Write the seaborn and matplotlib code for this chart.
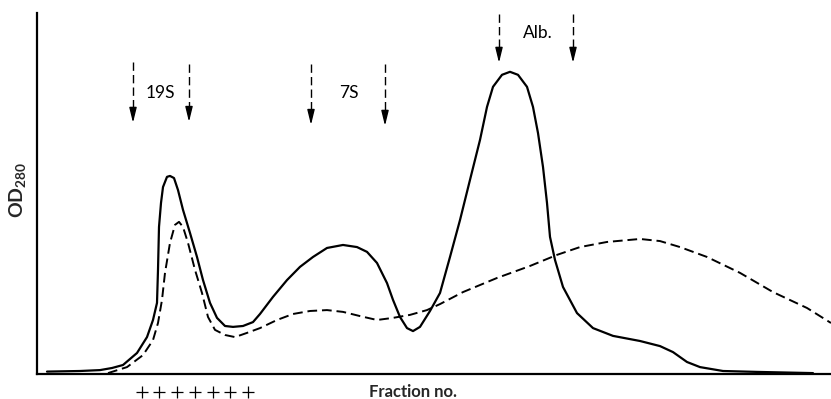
import matplotlib
matplotlib.use("Agg")
import matplotlib.pyplot as plt
import seaborn as sns
import pandas as pd

# ---- data (fraction no., OD280 in arbitrary units) ----
solid_x = [1.0, 4.3, 6.3, 7.5, 8.6, 10.0, 11.0, 11.6, 12.0, 12.1, 12.2, 12.4, 12.6, 13.0,
           13.3, 13.7, 14.1, 14.6, 15.3, 16.0, 16.6, 17.3, 18.0, 18.8, 19.6, 20.6, 21.6,
           22.3, 23.6, 25.0, 26.3, 27.6, 29.0, 30.6, 32.0, 33.0, 34.0, 35.0, 35.6, 36.3,
           37.0, 37.6, 38.3, 39.3, 40.3, 41.3, 42.3, 43.3, 44.3, 45.0, 45.6, 46.5, 47.3,
           48.1, 49.0, 49.6, 50.1, 50.6, 51.0, 51.3, 51.8, 52.6, 54.0, 55.6, 57.6, 60.3,
           62.3, 63.6, 65.0, 66.3, 68.6, 72.0, 77.6]
solid_y = [0.008, 0.010, 0.013, 0.020, 0.030, 0.070, 0.123, 0.180, 0.237, 0.347,
           0.490, 0.570, 0.623, 0.657, 0.660, 0.653, 0.613, 0.547, 0.470, 0.390,
           0.313, 0.237, 0.187, 0.160, 0.157, 0.160, 0.173, 0.200, 0.257, 0.313,
           0.357, 0.390, 0.420, 0.430, 0.423, 0.407, 0.370, 0.303, 0.247, 0.190,
           0.153, 0.143, 0.157, 0.210, 0.270, 0.390, 0.513, 0.647, 0.780, 0.890,
           0.957, 0.997, 1.007, 0.997, 0.957, 0.890, 0.803, 0.690, 0.570, 0.457,
           0.380, 0.290, 0.203, 0.153, 0.127, 0.110, 0.093, 0.073, 0.040, 0.023,
           0.010, 0.007, 0.003]

dashed_x = [7.1, 9.0, 10.6, 11.6, 12.1, 12.5, 12.8, 13.3, 13.8, 14.2, 14.6, 15.1, 15.8,
            16.5, 17.1, 17.8, 18.8, 19.8, 21.0, 22.3, 24.0, 25.6, 27.3, 29.0, 30.6, 32.3,
            34.0, 35.6, 37.3, 39.0, 40.3, 42.6, 46.0, 49.3, 52.0, 54.3, 57.0, 60.3, 62.3,
            64.3, 67.0, 70.3, 73.6, 77.0, 79.4]
dashed_y = [0.003, 0.023, 0.063, 0.113, 0.170, 0.247, 0.337, 0.437, 0.497, 0.507,
            0.490, 0.437, 0.347, 0.270, 0.190, 0.147, 0.130, 0.123, 0.137, 0.153,
            0.180, 0.200, 0.210, 0.213, 0.207, 0.193, 0.180, 0.187, 0.197, 0.213,
            0.233, 0.273, 0.320, 0.360, 0.397, 0.423, 0.440, 0.450, 0.443, 0.423,
            0.390, 0.337, 0.273, 0.220, 0.170]

# marker arrows (x position, top, tip) and labels
arrow_x = [9.6, 15.2, 27.4, 34.8, 46.2, 53.6]
arrow_top = [1.040, 1.033, 1.033, 1.033, 1.200, 1.200]
arrow_bottom = [0.837, 0.840, 0.830, 0.827, 1.037, 1.037]
label_text = ["19S", "7S", "Alb."]
label_x = [12.3, 31.2, 50.1]
label_y = [0.937, 0.937, 1.137]

plus_x = [10.5, 12.2, 14.0, 15.8, 17.6, 19.3, 21.1]

# ---- plotting ----
sns.set_style("white")
plt.rcParams["font.family"] = ["Lato", "DejaVu Sans"]
plt.rcParams["mathtext.fontset"] = "custom"
plt.rcParams["mathtext.rm"] = "Lato"
plt.rcParams["mathtext.bf"] = "Lato:bold"

fig = plt.figure(figsize=(8.31, 3.99), dpi=100)
ax = fig.add_axes([37 / 831, 1 - 374 / 399, 1 - 37 / 831, 361 / 399])

df_s = pd.DataFrame({"x": solid_x, "y": solid_y})
df_d = pd.DataFrame({"x": dashed_x, "y": dashed_y})
sns.lineplot(data=df_s, x="x", y="y", ax=ax, color="black", linewidth=1.6,
             sort=False, estimator=None)
sns.lineplot(data=df_d, x="x", y="y", ax=ax, color="black", linewidth=1.4,
             linestyle=(0, (5, 2.5)), sort=False, estimator=None)

for xa, yt, yb in zip(arrow_x, arrow_top, arrow_bottom):
    ax.plot([xa, xa], [yt, yb + 0.03], color="black", linewidth=1.0,
            linestyle=(0, (6, 3)), clip_on=False)
    ax.annotate("", xy=(xa, yb), xytext=(xa, yb + 0.045),
                arrowprops=dict(arrowstyle="-|>,head_length=0.9,head_width=0.22",
                                color="black", lw=1.0, shrinkA=0, shrinkB=0),
                annotation_clip=False)

for t, lx, ly in zip(label_text, label_x, label_y):
    ax.text(lx, ly, t, ha="center", va="center", fontsize=12.5, color="black")

ax.plot(plus_x, [-0.05] * len(plus_x), linestyle="none", marker="+", markersize=9,
        markeredgewidth=0.9, color="black", clip_on=False,
        transform=ax.get_xaxis_transform())

ax.text(37.6, -0.05, "Fraction no.", ha="center", va="center", fontsize=12,
        fontweight="bold", transform=ax.get_xaxis_transform())
fig.text(18 / 831, 1 - 190 / 399, r"OD$_{\mathbf{280}}$", rotation=90,
         ha="center", va="center", fontsize=14, fontweight="bold")

ax.set_xlim(0, 79.4)
ax.set_ylim(0, 1.203)
ax.set_xticks([])
ax.set_yticks([])
ax.set_xlabel("")
ax.set_ylabel("")
for s in ["top", "right"]:
    ax.spines[s].set_visible(False)
for s in ["left", "bottom"]:
    ax.spines[s].set_linewidth(1.6)
    ax.spines[s].set_color("black")

fig.savefig("out.png", dpi=100)
